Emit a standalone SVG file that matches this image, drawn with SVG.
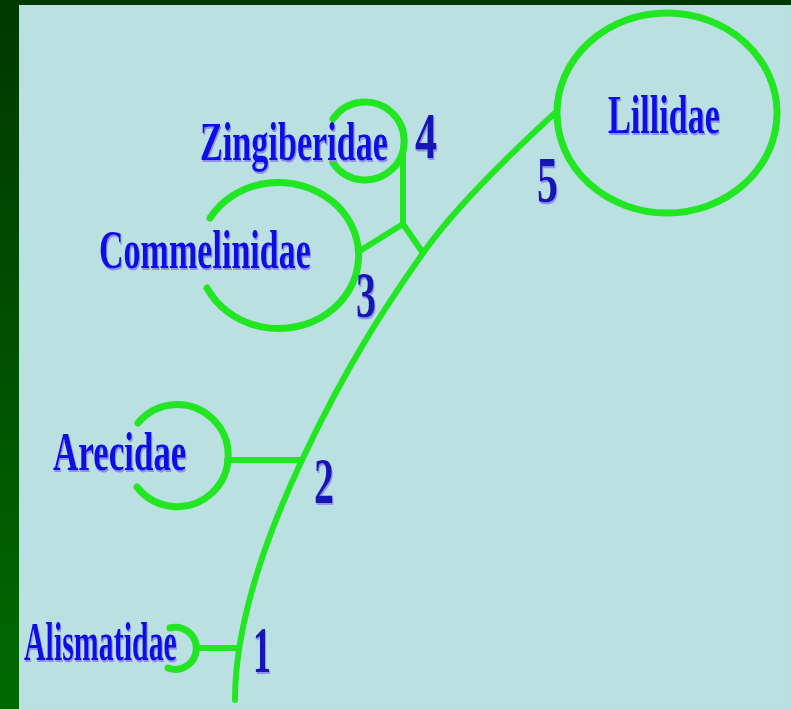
<svg xmlns="http://www.w3.org/2000/svg" width="791" height="709" viewBox="0 0 791 709">
<defs>
<linearGradient id="lb" x1="0" y1="0" x2="0" y2="1">
<stop offset="0" stop-color="#003800"/>
<stop offset="1" stop-color="#006a00"/>
</linearGradient>
<filter id="sh" x="-5%" y="-20%" width="115%" height="150%">
<feDropShadow dx="1.5" dy="2" stdDeviation="0.4" flood-color="#9090f0" flood-opacity="1"/>
</filter>
</defs>
<style>
.ln{fill:none;stroke:#22e622;stroke-width:6;stroke-linecap:round;stroke-linejoin:round}
.ring{fill:none;stroke:#22e622;stroke-width:7;stroke-linecap:round}
.lbl{font-family:"Liberation Serif","Times New Roman",serif;font-weight:bold;font-size:54px;fill:#0808e6;filter:url(#sh)}
.num{font-family:"Liberation Serif","Times New Roman",serif;font-weight:bold;font-size:66px;fill:#1414b4;filter:url(#sh)}
</style>
<rect x="0" y="0" width="791" height="709" fill="#bae0e2"/>
<rect x="0" y="0" width="19" height="709" fill="url(#lb)"/>
<rect x="0" y="0" width="791" height="5" fill="#003800"/>

<g id="connectors">
<path class="ln" d="M235,700 C235,640 255,560 302,460 S390,300 423,253 S520,145 555,113"/>
<path class="ln" d="M403,150 L403,224 L423,253 M403,224 L358,252"/>
<path class="ln" d="M227,460 L302,460"/>
<path class="ln" d="M196,648 L236,648"/>
</g>

<g id="lillidae">
<ellipse class="ring" cx="667" cy="113" rx="110" ry="100"/>
<text class="lbl" transform="translate(608,133) scale(0.6325,1)">Lillidae</text>
</g>
<g id="zingiberidae">
<path class="ring" d="M333,119 A39,39 0 1 1 333,163"/>
<text class="lbl" transform="translate(200,160) scale(0.633,1)">Zingiberidae</text>
</g>
<g id="commelinidae">
<path class="ring" d="M210,218 A80,73 0 1 1 207,288"/>
<text class="lbl" transform="translate(99,268) scale(0.631,1)">Commelinidae</text>
</g>
<g id="arecidae">
<path class="ring" d="M138,423 A51,51 0 1 1 137,487"/>
<text class="lbl" transform="translate(53,470) scale(0.648,1)">Arecidae</text>
</g>
<g id="alismatidae">
<path class="ring" d="M170,628 A21,21 0 1 1 168,668"/>
<text class="lbl" transform="translate(24,660) scale(0.554,1)">Alismatidae</text>
</g>

<g id="numbers">
<text class="num" transform="translate(415,158) scale(0.667,1)">4</text>
<text class="num" transform="translate(356,317) scale(0.606,1)">3</text>
<text class="num" transform="translate(537,202) scale(0.636,1)">5</text>
<text class="num" transform="translate(314,503) scale(0.606,1)">2</text>
<text class="num" transform="translate(253,672) scale(0.545,1)">1</text>
</g>
</svg>
